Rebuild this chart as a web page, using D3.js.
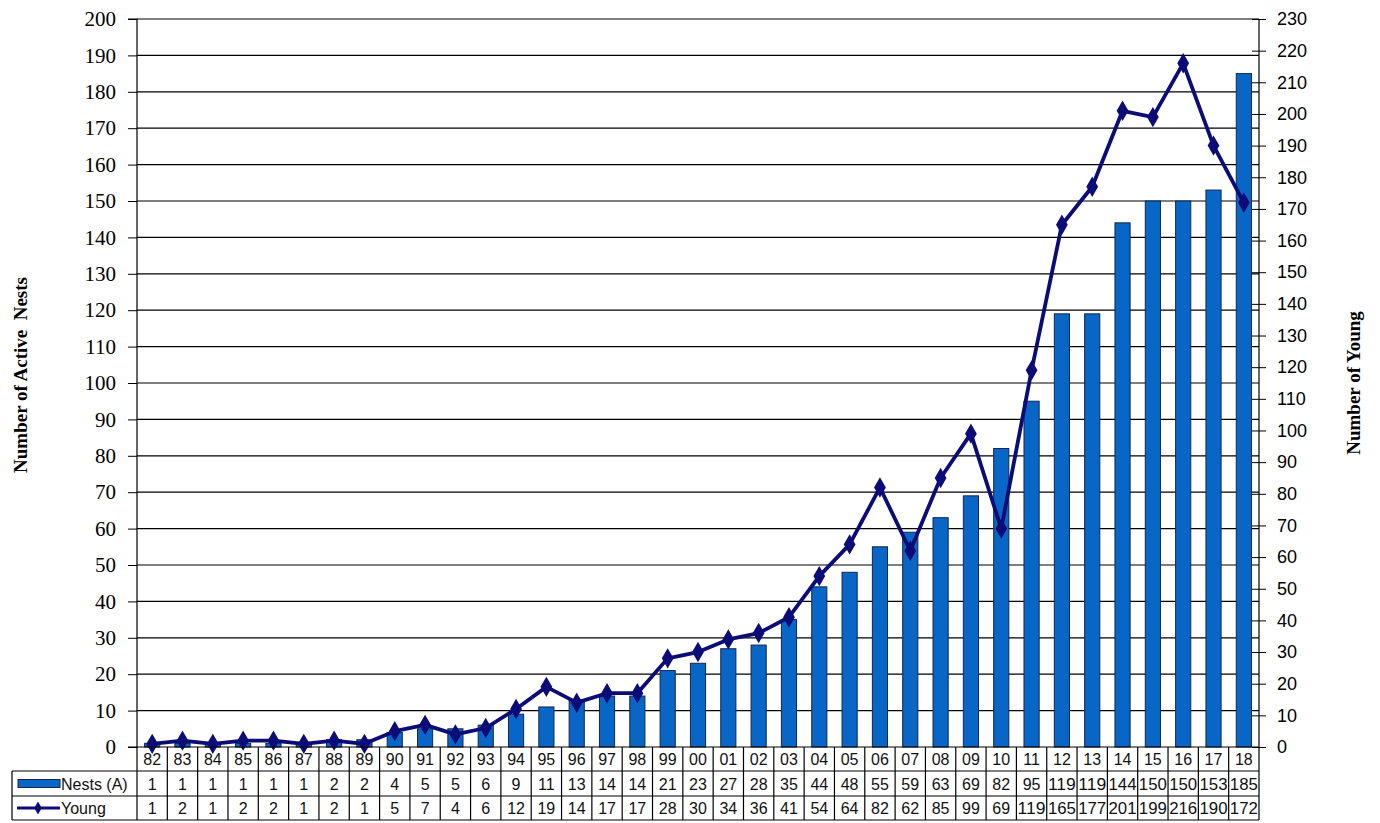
<!DOCTYPE html>
<html>
<head>
<meta charset="utf-8">
<script src="https://cdn.jsdelivr.net/npm/d3@7/dist/d3.min.js"></script>
<style>
  html, body { margin: 0; padding: 0; background: #fff; }
  svg { display: block; }
  .serif { font-family: "Liberation Serif", "Times New Roman", serif; }
  .sans { font-family: "Liberation Sans", Arial, sans-serif; }
</style>
</head>
<body>
<svg id="chart" width="1380" height="823"></svg>
<script>
const years = ["82","83","84","85","86","87","88","89","90","91","92","93","94","95","96","97","98","99","00","01","02","03","04","05","06","07","08","09","10","11","12","13","14","15","16","17","18"];
const nests = [1,1,1,1,1,1,2,2,4,5,5,6,9,11,13,14,14,21,23,27,28,35,44,48,55,59,63,69,82,95,119,119,144,150,150,153,185];
const young = [1,2,1,2,2,1,2,1,5,7,4,6,12,19,14,17,17,28,30,34,36,41,54,64,82,62,85,99,69,119,165,177,201,199,216,190,172];
const leftTicks = d3.range(0, 201, 10);
const rightTicks = d3.range(0, 231, 10);
const seriesNames = ["Nests (A)", "Young"];

const svg = d3.select("#chart");
const L = 137, R = 1259, T = 19, B = 747;
const rowB = [747, 771, 796, 820];
const legendLeft = 12;

const x = d3.scaleBand().domain(years).range([L, R]).paddingInner(0.5).paddingOuter(0.25);
const xc = d3.scaleBand().domain(years).range([L, R]).padding(0);
const yL = d3.scaleLinear().domain([0, 200]).range([B, T]);
const yR = d3.scaleLinear().domain([0, 230]).range([B, T]);

const barColor = "#0866c6";
const lineColor = "#0c0c78";

// gridlines
svg.append("g").selectAll("line").data(leftTicks.filter(d => d > 0)).join("line")
  .attr("x1", L).attr("x2", R).attr("y1", d => yL(d)).attr("y2", d => yL(d))
  .attr("stroke", "#000").attr("stroke-width", 1.2);

// bars
svg.append("g").selectAll("rect").data(nests).join("rect")
  .attr("x", (d, i) => x(years[i]))
  .attr("width", x.bandwidth())
  .attr("y", d => yL(d))
  .attr("height", d => B - yL(d))
  .attr("fill", barColor)
  .attr("stroke", "#15254f").attr("stroke-width", 1);

// left axis
const leftAxis = d3.axisLeft(yL).tickValues(leftTicks).tickSize(9).tickPadding(12);
const gl = svg.append("g").attr("transform", `translate(${L},0)`).call(leftAxis);
gl.attr("font-family", null).attr("font-size", null);
gl.select(".domain").attr("stroke", "#000").attr("stroke-width", 1.2).attr("d", `M-9,${T}H0V${B}H-9`);
gl.selectAll(".tick line").attr("stroke", "#000");
gl.selectAll(".tick text").attr("class", "serif")
  .style("font-family", '"Liberation Serif", "Times New Roman", serif')
  .style("font-size", "21px").attr("fill", "#000");

// right axis
const rightAxis = d3.axisRight(yR).tickValues(rightTicks).tickSize(7).tickPadding(11);
const gr = svg.append("g").attr("transform", `translate(${R},0)`).call(rightAxis);
gr.attr("font-family", null).attr("font-size", null);
gr.select(".domain").attr("stroke", "#000").attr("stroke-width", 1.2).attr("d", `M0,${T}V${B}`);
gr.selectAll(".tick line").attr("x1", -7).attr("stroke", "#000");
gr.selectAll(".tick text")
  .style("font-family", '"Liberation Sans", Arial, sans-serif')
  .style("font-size", "18px").attr("fill", "#000");

// young line
const line = d3.line().x((d, i) => xc(years[i]) + xc.bandwidth() / 2).y(d => yR(d));
svg.append("path").datum(young).attr("d", line)
  .attr("fill", "none").attr("stroke", lineColor).attr("stroke-width", 3.8).attr("stroke-linejoin", "round");
const diamond = d3.symbol().type(d3.symbolDiamond).size(120);
svg.append("g").selectAll("path").data(young).join("path")
  .attr("d", diamond)
  .attr("transform", (d, i) => `translate(${xc(years[i]) + xc.bandwidth() / 2},${yR(d)})`)
  .attr("fill", lineColor);

// data table
const tbl = svg.append("g");
const tFont = '"Liberation Sans", Arial, sans-serif';
tbl.append("line").attr("x1", L).attr("x2", R).attr("y1", rowB[0]).attr("y2", rowB[0]).attr("stroke", "#000").attr("stroke-width", 1.2);
[1, 2, 3].forEach(k => {
  tbl.append("line").attr("x1", legendLeft).attr("x2", R).attr("y1", rowB[k]).attr("y2", rowB[k]).attr("stroke", "#000").attr("stroke-width", 1.2);
});
const vxs = years.map(y => xc(y)).concat([R]);
tbl.selectAll("line.v").data(vxs).join("line").attr("class", "v")
  .attr("x1", d => d).attr("x2", d => d).attr("y1", rowB[0]).attr("y2", rowB[3])
  .attr("stroke", "#000").attr("stroke-width", 1.2);
tbl.append("line").attr("x1", legendLeft).attr("x2", legendLeft).attr("y1", rowB[1]).attr("y2", rowB[3]).attr("stroke", "#000").attr("stroke-width", 1.2);

const rows = [years, nests, young];
rows.forEach((arr, r) => {
  tbl.append("g").selectAll("text").data(arr).join("text")
    .attr("x", (d, i) => xc(years[i]) + xc.bandwidth() / 2)
    .attr("y", (rowB[r] + rowB[r + 1]) / 2 + 6)
    .attr("text-anchor", "middle")
    .style("font-family", tFont).style("font-size", "16px")
    .attr("textLength", d => String(d).length >= 3 ? 28 : null)
    .attr("lengthAdjust", "spacingAndGlyphs")
    .attr("fill", "#111").text(d => d);
});

// legend keys
const m1 = (rowB[1] + rowB[2]) / 2, m2 = (rowB[2] + rowB[3]) / 2;
tbl.append("rect").attr("x", 18).attr("y", m1 - 4).attr("width", 42).attr("height", 8)
  .attr("fill", barColor).attr("stroke", "#15254f").attr("stroke-width", 1);
tbl.append("line").attr("x1", 17).attr("x2", 60).attr("y1", m2).attr("y2", m2)
  .attr("stroke", lineColor).attr("stroke-width", 3);
tbl.append("path").attr("d", d3.symbol().type(d3.symbolDiamond).size(50)).attr("transform", `translate(38,${m2})`).attr("fill", lineColor);
tbl.append("text").attr("x", 61).attr("y", m1 + 6).style("font-family", tFont).style("font-size", "16px").attr("fill", "#111").text(seriesNames[0]);
tbl.append("text").attr("x", 61).attr("y", m2 + 6).style("font-family", tFont).style("font-size", "16px").attr("fill", "#111").text(seriesNames[1]);

// axis titles
svg.append("text").attr("transform", "translate(27,375) rotate(-90)").attr("text-anchor", "middle")
  .style("font-family", '"Liberation Serif", "Times New Roman", serif').style("font-weight", "bold").style("font-size", "19px")
  .attr("fill", "#000").attr("xml:space", "preserve").text("Number of Active  Nests");
svg.append("text").attr("transform", "translate(1360,383) rotate(-90)").attr("text-anchor", "middle")
  .style("font-family", '"Liberation Serif", "Times New Roman", serif').style("font-weight", "bold").style("font-size", "19px")
  .attr("fill", "#000").text("Number of Young");
</script>
</body>
</html>
